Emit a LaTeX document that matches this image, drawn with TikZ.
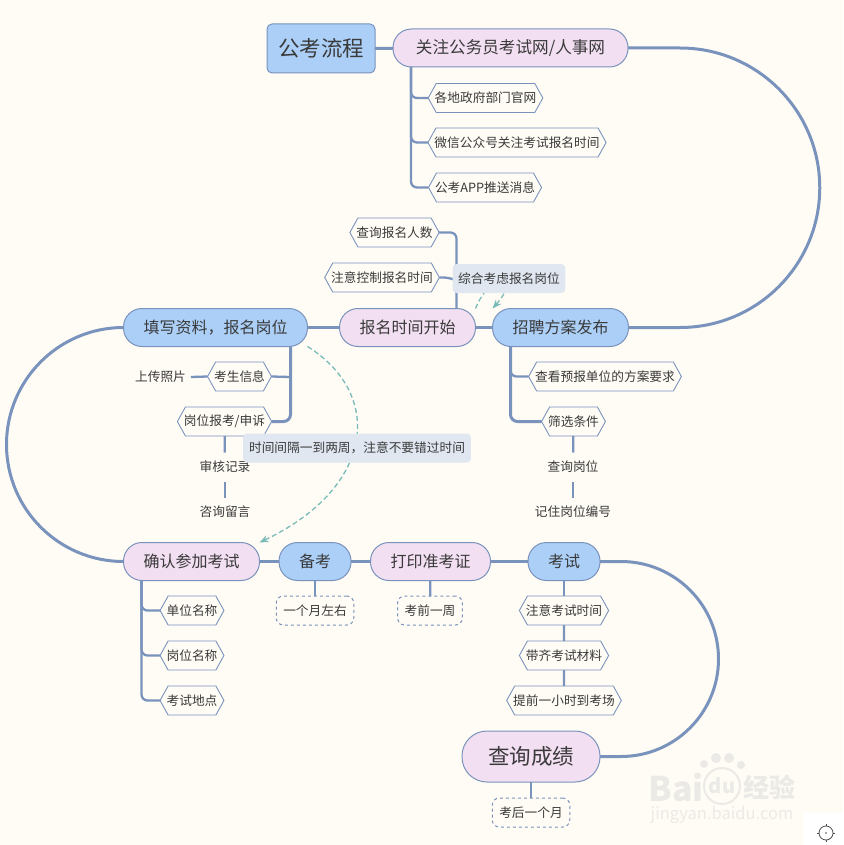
\documentclass[tikz,border=0pt]{standalone}
\usepackage{fontspec}
\setmainfont{Noto Sans CJK SC}
\usetikzlibrary{arrows.meta, shapes.symbols, calc, bending}
\definecolor{paper}{HTML}{FFFCF5}
\definecolor{mapline}{HTML}{7A93BD}
\definecolor{mapblue}{HTML}{ABCFF7}
\definecolor{mappink}{HTML}{F2DFF2}
\definecolor{mapnote}{HTML}{E0E7F1}
\definecolor{mapteal}{HTML}{78BBB8}
\definecolor{maptext}{HTML}{3A3A3A}
\definecolor{markgrey}{HTML}{EBEAE6}
\tikzset{
  x=1pt, y=1pt,
  every node/.style={text=maptext, outer sep=0pt},
  pill/.style={rectangle, rounded corners=18.5pt, draw=mapline, line width=1pt, minimum height=38pt, inner xsep=20pt, inner ysep=0pt, font=\fontsize{16}{18}\selectfont},
  bluepill/.style={pill, fill=mapblue},
  pinkpill/.style={pill, fill=mappink},
  rootbox/.style={rectangle, rounded corners=5pt, draw=mapline, line width=1pt, fill=mapblue, minimum height=49pt, inner xsep=11pt, font=\fontsize{21.5}{24}\selectfont},
  bigpill/.style={pinkpill, rounded corners=25pt, minimum height=51pt, inner xsep=26pt, font=\fontsize{21.5}{24}\selectfont},
  hex/.style={signal, signal to=east and west, signal pointer angle=122, draw=mapline, line width=0.9pt, fill=paper, minimum height=29pt, inner xsep=-1.5pt, inner ysep=0pt, font=\fontsize{12.7}{15}\selectfont},
  plain/.style={minimum height=29pt, inner xsep=0pt, inner ysep=0pt, font=\fontsize{12.7}{15}\selectfont},
  dashbox/.style={rectangle, rounded corners=7pt, draw=mapline, dashed, line width=1pt, fill=paper, minimum height=29pt, inner xsep=7pt, inner ysep=0pt, font=\fontsize{12.7}{15}\selectfont},
  note/.style={rectangle, rounded corners=4pt, fill=mapnote, minimum height=29pt, inner xsep=5.5pt, inner ysep=0pt, font=\fontsize{12.7}{15}\selectfont},
  link/.style={draw=mapline, line width=3pt, rounded corners=7pt},
  thinlink/.style={draw=mapline, line width=2.3pt, rounded corners=6pt},
  bow/.style={draw=mapline, line width=3pt},
  hint/.style={draw=mapteal, line width=1.3pt, dash pattern=on 5pt off 3pt, -{Stealth[length=9pt,width=7pt,bend]}}
}
\begin{document}
\begin{tikzpicture}
  \useasboundingbox (0,0) rectangle (843,-845);
  \fill[paper] (0,0) rectangle (843,-845);

  \node[rootbox] (root) at (321,-48.5) {公考流程};
  \node[pinkpill, minimum width=235pt, font=\fontsize{16.6}{18}\selectfont] (gov) at (510.5,-48) {关注公务员考试网/人事网};
  \node[hex] (site) at (485.5,-98) {各地政府部门官网};
  \node[hex] (wechat) at (517,-142.5) {微信公众号关注考试报名时间};
  \node[hex] (app) at (485,-187.5) {公考APP推送消息};

  \node[hex] (count) at (394.5,-232.5) {查询报名人数};
  \node[hex] (limit) at (382,-277.5) {注意控制报名时间};
  \node[bluepill] (fill) at (215.5,-327.5) {填写资料，报名岗位};
  \node[pinkpill] (start) at (407.5,-327.5) {报名时间开始};
  \node[bluepill] (plan) at (560.5,-327.5) {招聘方案发布};

  \node[plain] (photo) at (160.5,-377) {上传照片};
  \node[hex] (info) at (239.5,-376.5) {考生信息};
  \node[hex] (apply) at (224.5,-421.5) {岗位报考/申诉};
  \node[plain] (record) at (225,-467) {审核记录};
  \node[plain] (advice) at (225,-512) {咨询留言};

  \node[hex] (unit) at (605,-376.5) {查看预报单位的方案要求};
  \node[hex] (cond) at (573.5,-421.5) {筛选条件};
  \node[plain] (post) at (573,-467) {查询岗位};
  \node[plain] (code) at (573,-512) {记住岗位编号};

  \node[pinkpill] (confirm) at (191.5,-561.5) {确认参加考试};
  \node[bluepill] (prep) at (315,-561.5) {备考};
  \node[pinkpill] (ticket) at (430.5,-561.5) {打印准考证};
  \node[bluepill] (exam) at (564,-561.5) {考试};

  \node[hex] (dept) at (192,-610.5) {单位名称};
  \node[hex] (job) at (192,-655.5) {岗位名称};
  \node[hex] (place) at (192,-700.5) {考试地点};
  \node[dashbox] (month) at (315,-610.5) {一个月左右};
  \node[dashbox] (week) at (430,-610.5) {考前一周};
  \node[hex] (time) at (564,-610.5) {注意考试时间};
  \node[hex] (stuff) at (564,-655.5) {带齐考试材料};
  \node[hex] (early) at (564,-700.5) {提前一小时到考场};

  \node[bigpill] (score) at (531,-756.5) {查询成绩};
  \node[dashbox] (after) at (531,-812.5) {考后一个月};

  \draw[bow] (gov.east) -- ++(52,0) arc[start angle=90,end angle=-90,radius=139.75] -- (plan.east);
  \draw[bow] (fill.west) arc[start angle=90,end angle=270,radius=117] -- (confirm.west);
  \draw[bow] (exam.east) -- ++(21,0) arc[start angle=90,end angle=-90,radius=97.5] -- (score.east);

  \draw[link] (root) -- (gov);
  \draw[link] (fill) -- (start);
  \draw[link] (start) -- (plan);
  \draw[link] (confirm) -- (prep);
  \draw[link] (prep) -- (ticket);
  \draw[link] (ticket) -- (exam);

  \draw[thinlink] ($(gov.south west)+(18,0)$) |- (site.west);
  \draw[thinlink] ($(gov.south west)+(18,0)$) |- (wechat.west);
  \draw[thinlink] ($(gov.south west)+(18,0)$) |- (app.west);

  \draw[thinlink] (count.east) -| ($(start.north west)+(117,0)$);
  \draw[thinlink] (limit.east) -- ++(10,0) -- ($(limit.east)+(19,-4)$);

  \draw[link] ($(fill.south east)+(-17,0)$) |- (apply.east);
  \draw[thinlink] ($(fill.south east)+(-17,-30.5)$) -- (info.east);
  \draw[thinlink] (photo.east) ++(5,0) -- (info.west);
  \draw[thinlink] (apply) -- (record);
  \draw[thinlink] (record) -- (advice);

  \draw[link] ($(plan.south west)+(18,0)$) |- (cond.west);
  \draw[thinlink] ($(plan.south west)+(18,0)$) |- (unit.west);
  \draw[thinlink] (cond) -- (post);
  \draw[thinlink] (post) -- (code);

  \draw[thinlink] ($(confirm.south west)+(18,0)$) |- (dept.west);
  \draw[thinlink] ($(confirm.south west)+(18,0)$) |- (job.west);
  \draw[thinlink] ($(confirm.south west)+(18,0)$) |- (place.west);
  \draw[thinlink] (prep) -- (month);
  \draw[thinlink] (ticket) -- (week);
  \draw[thinlink] (exam) -- (time);
  \draw[thinlink] (time) -- (stuff);
  \draw[thinlink] (stuff) -- (early);
  \draw[thinlink] (score) -- (after);

  \draw[hint] (fill.south east) .. controls (385,-395) and (375,-490) .. (confirm.north east);
  \draw[hint] (start.north east) .. controls (492,-268) and (525,-275) .. (plan.north west);

  \node[note] (mix) at (509,-278.5) {综合考虑报名岗位};
  \node[note, inner xsep=6pt] (gap) at (357,-448) {时间间隔一到两周，注意不要错过时间};

  % watermark and corner button
  \node[text=markgrey, font=\fontsize{34}{36}\selectfont\bfseries] (bai) at (676,-788) {Bai};
  \node[circle, draw=markgrey, line width=2pt, minimum size=36pt, inner sep=0pt, text=markgrey, font=\fontsize{20}{22}\selectfont\bfseries] (du) at (722,-786) {du};
  \node[text=markgrey, font=\fontsize{26}{28}\selectfont\bfseries] (jing) at (769,-787) {经验};
  \node[text=markgrey, font=\fontsize{16.5}{18}\selectfont] (url) at (722,-815) {jingyan.baidu.com};
  \fill[markgrey] (704,-764) circle[radius=4] (716,-758) circle[radius=5] (729,-758) circle[radius=5] (741,-765) circle[radius=4];
  \node[rectangle, fill=white, minimum width=40pt, minimum height=32pt, inner sep=0pt] (corner) at (823,-829) {};
  \node[circle, draw=black!70, line width=0.8pt, minimum size=14pt, inner sep=0pt] (aim) at (826,-833) {};
  \fill[black!70] (aim.center) circle[radius=0.9];
  \draw[black!70, line width=0.8pt] (aim.north) -- ++(0,2) (aim.south) -- ++(0,-2) (aim.east) -- ++(2,0) (aim.west) -- ++(-2,0);
\end{tikzpicture}
\end{document}
